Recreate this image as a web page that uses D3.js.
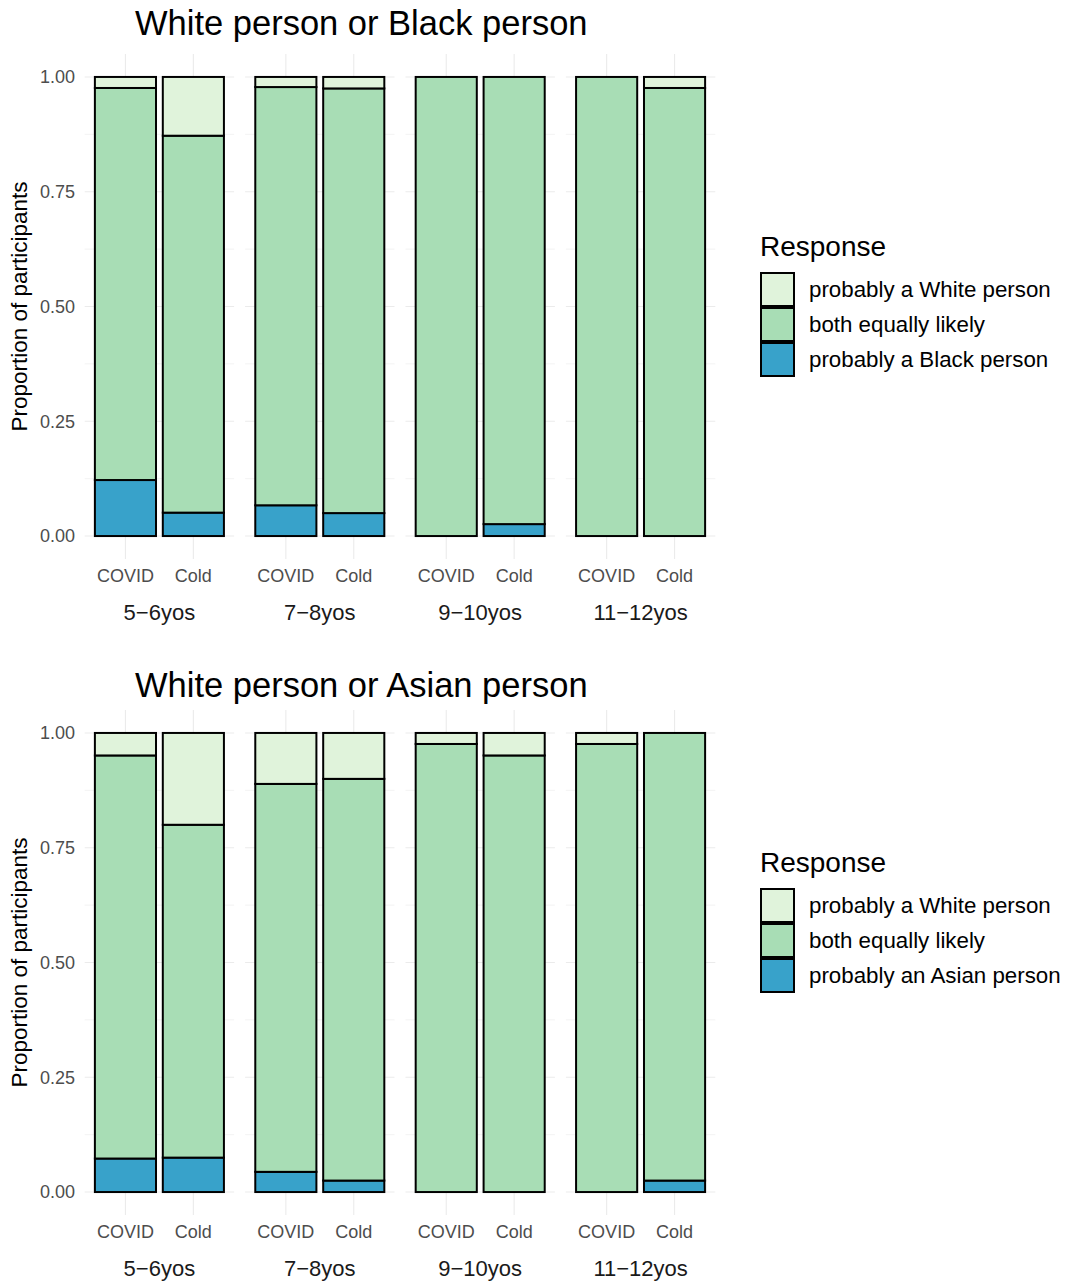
<!DOCTYPE html>
<html>
<meta charset="utf-8">
<title>White person or Black/Asian person</title>
<style>
	body {
		margin: 0;
		background: #fff;
	}

	svg text {
		font-family: "Liberation Sans", Arial, sans-serif;
	}

	.grid line {
		stroke: #ebebeb;
	}

	.bar {
		stroke: #000;
		stroke-width: 2px;
	}
</style>

<body>
	<svg id="chart" width="1067" height="1283"></svg>

	<script src="https://cdnjs.cloudflare.com/ajax/libs/d3/7.8.5/d3.min.js"></script>

	<script>
		// facets and bars (order: 5-6 COVID, 5-6 Cold, 7-8 COVID, ...)
		var ageGroups = ["5\u22126yos", "7\u22128yos", "9\u221210yos", "11\u221212yos"];
		var conditions = ["COVID", "Cold"];

		var yTicks = [0, 0.25, 0.5, 0.75, 1];
		var yMinor = [0.125, 0.375, 0.625, 0.875];

		// White person or Black person
		var blackResponses = ["probably a White person", "both equally likely", "probably a Black person"];
		var blackWhite = [0.024, 0.128, 0.022, 0.025, 0, 0, 0, 0.024];
		var blackBoth = [0.854, 0.821, 0.911, 0.925, 1, 0.974, 1, 0.976];
		var blackOther = [0.122, 0.051, 0.067, 0.050, 0, 0.026, 0, 0];

		// White person or Asian person
		var asianResponses = ["probably a White person", "both equally likely", "probably an Asian person"];
		var asianWhite = [0.049, 0.200, 0.111, 0.100, 0.024, 0.049, 0.024, 0];
		var asianBoth = [0.878, 0.725, 0.845, 0.875, 0.976, 0.951, 0.976, 0.975];
		var asianOther = [0.073, 0.075, 0.044, 0.025, 0, 0, 0, 0.025];

		var fills = ["#e0f3db", "#a8ddb5", "#38a2ca"];

		var svg = d3.select("#chart");

		drawChart(0, 35, 0, "White person or Black person", blackResponses, blackWhite, blackBoth, blackOther);
		drawChart(656, 41, -40, "White person or Asian person", asianResponses, asianWhite, asianBoth, asianOther);

		function drawChart(offsetY, titleY, legendTop, title, responses, white, both, other) {
			var g = svg.append("g")
				.attr("transform", "translate(0," + offsetY + ")");

			// one row per bar, keys stacked bottom-up: other, both, white
			var rows = [];
			ageGroups.forEach(function (age, i) {
				conditions.forEach(function (cond, j) {
					var k = i * conditions.length + j;
					rows.push({ age: age, cond: cond, white: white[k], both: both[k], other: other[k] });
				});
			});

			var keys = ["other", "both", "white"];
			var keyFill = { white: fills[0], both: fills[1], other: fills[2] };
			var series = d3.stack().keys(keys)(rows);

			var xPanel = d3.scaleBand()
				.domain(ageGroups)
				.range([84.7, 715.3])
				.paddingInner(11 / 160.6);

			var xInner = d3.scaleBand()
				.domain(conditions)
				.range([0, xPanel.bandwidth()])
				.paddingInner(0.1)
				.paddingOuter(0.15);

			var y = d3.scaleLinear()
				.domain([-0.05, 1.05])
				.range([559, 54]);

			// panel grids
			var panels = g.selectAll(".panel")
				.data(ageGroups)
				.enter().append("g")
				.attr("class", "panel grid")
				.attr("transform", function (d) {
					return "translate(" + xPanel(d) + ",0)";
				});

			panels.selectAll(".minor")
				.data(yMinor)
				.enter().append("line")
				.attr("x1", 0)
				.attr("x2", xPanel.bandwidth())
				.attr("y1", function (d) { return y(d); })
				.attr("y2", function (d) { return y(d); })
				.style("stroke-width", 0.6);

			panels.selectAll(".major")
				.data(yTicks)
				.enter().append("line")
				.attr("x1", 0)
				.attr("x2", xPanel.bandwidth())
				.attr("y1", function (d) { return y(d); })
				.attr("y2", function (d) { return y(d); })
				.style("stroke-width", 1.1);

			panels.selectAll(".vert")
				.data(conditions)
				.enter().append("line")
				.attr("x1", function (d) { return xInner(d) + xInner.bandwidth() / 2; })
				.attr("x2", function (d) { return xInner(d) + xInner.bandwidth() / 2; })
				.attr("y1", y.range()[1])
				.attr("y2", y.range()[0])
				.style("stroke-width", 1.1);

			// stacked bars
			g.selectAll(".layer")
				.data(series)
				.enter().append("g")
				.attr("class", "layer")
				.attr("fill", function (d) { return keyFill[d.key]; })
				.selectAll("rect")
				.data(function (d) {
					return d.filter(function (s) { return s[1] - s[0] > 0; });
				})
				.enter().append("rect")
				.attr("class", "bar")
				.attr("x", function (d) { return xPanel(d.data.age) + xInner(d.data.cond); })
				.attr("width", xInner.bandwidth())
				.attr("y", function (d) { return y(d[1]); })
				.attr("height", function (d) { return y(d[0]) - y(d[1]); });

			// y axis labels
			g.selectAll(".ytick")
				.data(yTicks)
				.enter().append("text")
				.attr("x", 75)
				.attr("y", function (d) { return y(d); })
				.attr("dy", "0.35em")
				.attr("text-anchor", "end")
				.style("font-size", "18px")
				.style("fill", "#4d4d4d")
				.text(d3.format(".2f"));

			g.append("text")
				.attr("transform", "translate(27," + y(0.5) + ") rotate(-90)")
				.attr("text-anchor", "middle")
				.style("font-size", "22.5px")
				.style("fill", "#000")
				.text("Proportion of participants");

			// x tick labels and strips
			panels.selectAll(".xtick")
				.data(conditions)
				.enter().append("text")
				.attr("x", function (d) { return xInner(d) + xInner.bandwidth() / 2; })
				.attr("y", 582)
				.attr("text-anchor", "middle")
				.style("font-size", "18px")
				.style("fill", "#4d4d4d")
				.text(function (d) { return d; });

			panels.append("text")
				.attr("x", xPanel.bandwidth() / 2)
				.attr("y", 620)
				.attr("text-anchor", "middle")
				.style("font-size", "22px")
				.style("fill", "#1a1a1a")
				.text(function (d) { return d; });

			// title
			g.append("text")
				.attr("x", 135)
				.attr("y", titleY)
				.style("font-size", "34.5px")
				.style("fill", "#000")
				.text(title);

			// legend
			var legend = g.append("g")
				.attr("transform", "translate(761," + legendTop + ")");

			legend.append("text")
				.attr("x", -1)
				.attr("y", 256)
				.style("font-size", "28px")
				.style("fill", "#000")
				.text("Response");

			var item = legend.selectAll(".item")
				.data(responses)
				.enter().append("g")
				.attr("class", "item")
				.attr("transform", function (d, i) {
					return "translate(0," + (273 + i * 35) + ")";
				});

			item.append("rect")
				.attr("class", "bar")
				.attr("width", 33)
				.attr("height", 33)
				.attr("fill", function (d, i) { return fills[i]; });

			item.append("text")
				.attr("x", 48)
				.attr("y", 16.5)
				.attr("dy", "0.35em")
				.style("font-size", "22.3px")
				.style("fill", "#000")
				.text(function (d) { return d; });
		}
	</script>
</body>

</html>
